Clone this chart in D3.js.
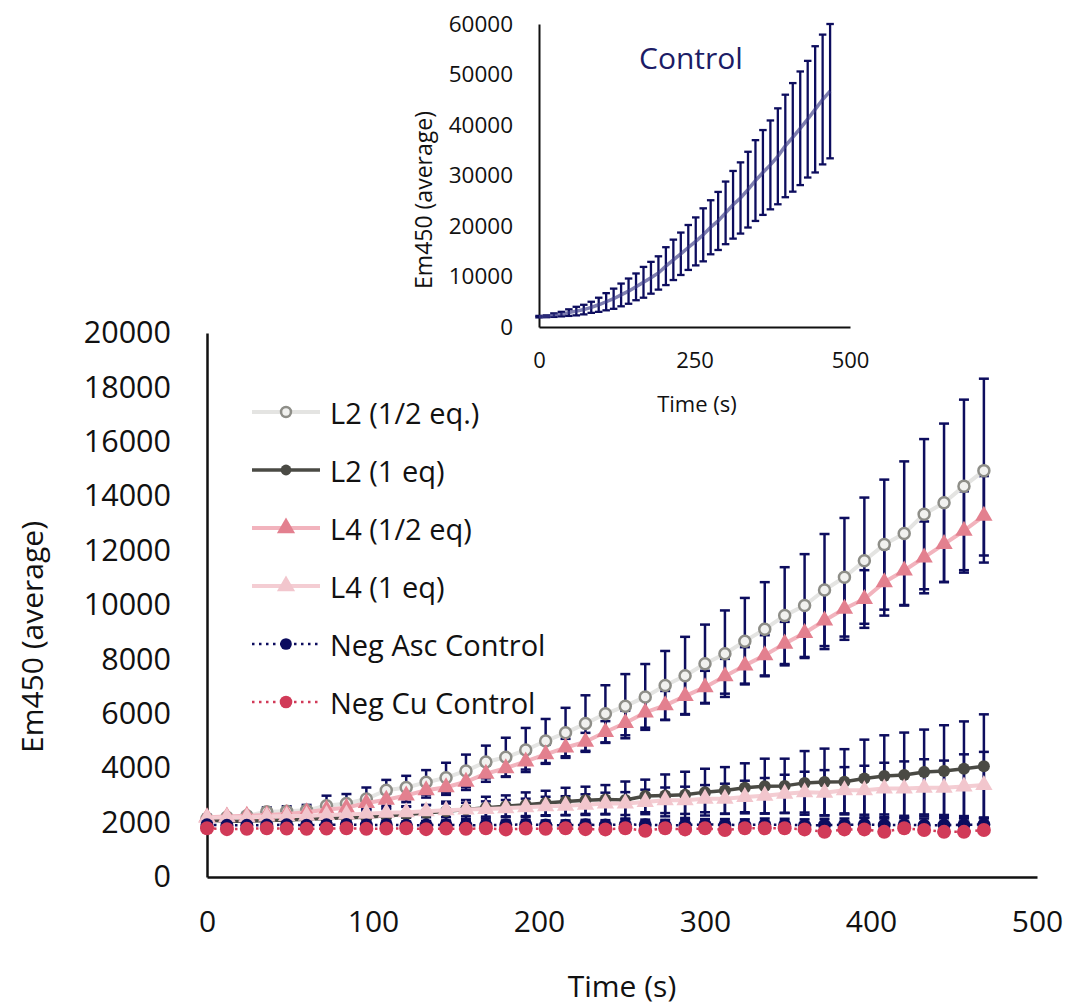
<!DOCTYPE html>
<html>
<head>
<meta charset="utf-8">
<script src="https://cdn.jsdelivr.net/npm/d3@7"></script>
<style>
  body { margin: 0; background: #fff; }
  svg { display: block; }
  text { font-family: "Open Sans", sans-serif; fill: #111; }
</style>
</head>
<body>
<svg id="chart" width="1073" height="1004"></svg>
<script>
// Sampling times (s)
const timeS = [0, 12, 24, 36, 48, 60, 72, 84, 96, 108, 120, 132, 144, 156, 168, 180, 192, 204, 216, 228,
               240, 252, 264, 276, 288, 300, 312, 324, 336, 348, 360, 372, 384, 396, 408, 420, 432, 444, 456, 468];

// Em450 averages and standard deviations, main panel
const l2Half   = [2150, 2200, 2250, 2400, 2420, 2450, 2620, 2700, 2870, 3190, 3290, 3480, 3650, 3900, 4230, 4400, 4670, 5000, 5300, 5640,
                  6000, 6280, 6620, 7040, 7400, 7840, 8210, 8670, 9110, 9610, 9980, 10550, 11020, 11630, 12220, 12630, 13340, 13760, 14370, 14940];
const l2HalfSd = [80, 100, 120, 160, 180, 200, 370, 350, 420, 380, 430, 450, 550, 600, 600, 720, 810, 810, 920, 1040,
                  1050, 1180, 1210, 1270, 1430, 1440, 1590, 1590, 1730, 1780, 1890, 2060, 2180, 2320, 2390, 2650, 2760, 2910, 3180, 3380];

const l2One    = [2100, 2050, 2050, 2080, 2100, 2120, 2150, 2180, 2200, 2250, 2300, 2350, 2420, 2480, 2550, 2600, 2660, 2720, 2780, 2820,
                  2850, 2830, 2980, 3000, 3020, 3120, 3180, 3280, 3340, 3350, 3460, 3490, 3500, 3620, 3710, 3750, 3860, 3900, 3980, 4070];
const l2OneSd  = [100, 100, 100, 150, 150, 150, 200, 200, 250, 250, 300, 300, 350, 350, 400, 400, 450, 450, 500, 500,
                  530, 680, 600, 770, 850, 860, 860, 900, 1010, 1000, 1170, 1230, 1200, 1430, 1500, 1560, 1560, 1680, 1740, 1910];

const l4Half   = [2200, 2220, 2250, 2280, 2320, 2380, 2480, 2550, 2720, 2840, 3000, 3190, 3300, 3500, 3800, 4000, 4250, 4510, 4760, 4970,
                  5330, 5660, 6050, 6310, 6650, 6980, 7380, 7780, 8150, 8580, 8970, 9430, 9860, 10220, 10840, 11270, 11750, 12240, 12730, 13280];
const l4HalfSd = [80, 80, 100, 100, 120, 120, 150, 150, 200, 220, 250, 270, 280, 300, 300, 300, 300, 350, 320, 330,
                  400, 450, 560, 530, 660, 600, 640, 670, 740, 800, 920, 1050, 1140, 1060, 1230, 1270, 1320, 1400, 1450, 1460];

const l4One    = [2180, 2200, 2200, 2220, 2240, 2250, 2280, 2300, 2330, 2360, 2380, 2420, 2450, 2480, 2500, 2530, 2560, 2600, 2620, 2660,
                  2700, 2700, 2760, 2820, 2820, 2880, 2880, 2940, 2990, 3060, 3120, 3100, 3190, 3190, 3250, 3250, 3280, 3280, 3330, 3380];
const l4OneSd  = [80, 80, 100, 100, 120, 120, 150, 150, 180, 200, 200, 220, 250, 250, 280, 300, 320, 350, 350, 380,
                  400, 420, 450, 470, 500, 500, 550, 600, 650, 700, 750, 830, 850, 900, 950, 1000, 1050, 1000, 1180, 1220];

const negAsc   = [1920, 1900, 1900, 1910, 1920, 1900, 1920, 1930, 1910, 1920, 1900, 1910, 1920, 1900, 1910, 1920, 1930, 1910, 1900, 1920,
                  1910, 1930, 1920, 1900, 1910, 1930, 1920, 1910, 1930, 1920, 1900, 1910, 1920, 1930, 1910, 1920, 1900, 1910, 1920, 1930];
const negAscSd = [100, 100, 110, 110, 120, 120, 120, 130, 130, 140, 140, 150, 150, 150, 160, 160, 170, 170, 180, 180,
                  180, 190, 190, 200, 200, 200, 210, 210, 220, 220, 220, 230, 230, 240, 240, 240, 250, 250, 260, 260];

const negCu    = [1790, 1760, 1770, 1790, 1780, 1770, 1780, 1790, 1770, 1780, 1790, 1760, 1780, 1770, 1790, 1750, 1780, 1770, 1790, 1760,
                  1750, 1790, 1700, 1790, 1750, 1790, 1730, 1790, 1790, 1790, 1750, 1660, 1750, 1750, 1660, 1790, 1730, 1660, 1660, 1730];
const negCuSd  = [50, 50, 50, 50, 50, 50, 50, 50, 50, 50, 50, 50, 50, 50, 50, 50, 50, 50, 50, 50,
                  60, 60, 60, 60, 60, 60, 60, 60, 60, 60, 60, 60, 60, 60, 60, 60, 60, 60, 60, 60];

// Inset: control without ligand
const control   = [2050, 2120, 2350, 2550, 2850, 3150, 3450, 3900, 4400, 5000, 5600, 6350, 7100, 7950, 8850, 9750, 10700, 12050, 13300, 14500,
                   15750, 16950, 18250, 19750, 21000, 22600, 24200, 25550, 27200, 29000, 30600, 32100, 33800, 35850, 37550, 39350, 41150, 43100, 45050, 46700];
const controlSd = [150, 180, 350, 450, 650, 850, 950, 1100, 1400, 1700, 2000, 2250, 2500, 2650, 3050, 3150, 3300, 3750, 4000, 4200,
                   4450, 4750, 5250, 5350, 5750, 6200, 6700, 7050, 7500, 8000, 8400, 8800, 9500, 10150, 10750, 11250, 11550, 12500, 12850, 13300];

// Axis ticks
const mainXTicks  = [0, 100, 200, 300, 400, 500];
const mainYTicks  = [0, 2000, 4000, 6000, 8000, 10000, 12000, 14000, 16000, 18000, 20000];
const insetXTicks = [0, 250, 500];
const insetYTicks = [0, 10000, 20000, 30000, 40000, 50000, 60000];

const seriesNames = ["L2 (1/2 eq.)", "L2 (1 eq)", "L4 (1/2 eq)", "L4 (1 eq)", "Neg Asc Control", "Neg Cu Control"];

const ERR = "#0d0d5e";
const series = [
  { name: seriesNames[0], mean: l2Half, sd: l2HalfSd, line: "#e4e4e2", lw: 4, dash: null,
    marker: "circle", r: 5.5, fill: "#f1f1ef", stroke: "#8e8e88", sw: 2.5 },
  { name: seriesNames[1], mean: l2One, sd: l2OneSd, line: "#4a4a44", lw: 3.5, dash: null,
    marker: "circle", r: 6, fill: "#4a4a44", stroke: "none", sw: 0 },
  { name: seriesNames[2], mean: l4Half, sd: l4HalfSd, line: "#f2b3bd", lw: 4, dash: null,
    marker: "triangle", size: 130, fill: "#e3808f", stroke: "none", sw: 0 },
  { name: seriesNames[3], mean: l4One, sd: l4OneSd, line: "#f4cdd3", lw: 4, dash: null,
    marker: "triangle", size: 130, fill: "#f2c6cd", stroke: "none", sw: 0 },
  { name: seriesNames[4], mean: negAsc, sd: negAscSd, line: "#0c0c5e", lw: 2.5, dash: "2.5,4.5",
    marker: "circle", r: 6.5, fill: "#0c0c5e", stroke: "none", sw: 0 },
  { name: seriesNames[5], mean: negCu, sd: negCuSd, line: "#d13a58", lw: 2.5, dash: "2.5,4.5",
    marker: "circle", r: 7, fill: "#d13a58", stroke: "none", sw: 0 }
];

const svg = d3.select("#chart");

function drawMarker(g, s, cx, cy, scale) {
  const k = scale || 1;
  if (s.marker === "circle") {
    g.append("circle").attr("cx", cx).attr("cy", cy).attr("r", s.r * k)
      .attr("fill", s.fill).attr("stroke", s.stroke).attr("stroke-width", s.sw);
  } else {
    g.append("path").attr("transform", `translate(${cx},${cy})`)
      .attr("d", d3.symbol(d3.symbolTriangle, s.size * k * k)())
      .attr("fill", s.fill);
  }
}

function errorBars(g, xs, ys, mean, sd, capW, width) {
  const grp = g.append("g").attr("stroke", ERR).attr("stroke-width", width).attr("fill", "none");
  timeS.forEach((t, i) => {
    const px = xs(t), top = ys(mean[i] + sd[i]), bot = ys(mean[i] - sd[i]);
    grp.append("line").attr("x1", px).attr("x2", px).attr("y1", top).attr("y2", bot);
    grp.append("line").attr("x1", px - capW / 2).attr("x2", px + capW / 2).attr("y1", top).attr("y2", top);
    grp.append("line").attr("x1", px - capW / 2).attr("x2", px + capW / 2).attr("y1", bot).attr("y2", bot);
  });
}

function styleAxis(g, fontSize) {
  g.select(".domain").attr("stroke", "#111").attr("stroke-width", 2.5);
  g.selectAll(".tick line").remove();
  g.selectAll(".tick text").attr("font-size", fontSize).attr("fill", "#111")
    .style("font-family", '"Open Sans", sans-serif');
}

// ---------- Main panel ----------
const x = d3.scaleLinear().domain([0, 500]).range([207, 1037]);
const y = d3.scaleLinear().domain([0, 20000]).range([877, 333]);

const main = svg.append("g");

const gx = main.append("g").attr("transform", `translate(0,${y(0)})`)
  .call(d3.axisBottom(x).tickValues(mainXTicks).tickFormat(d3.format("d")).tickSize(0).tickSizeOuter(0).tickPadding(34));
styleAxis(gx, 30);
const gy = main.append("g").attr("transform", `translate(${x(0)},0)`)
  .call(d3.axisLeft(y).tickValues(mainYTicks).tickFormat(d3.format("d")).tickSize(0).tickSizeOuter(0).tickPadding(36));
styleAxis(gy, 30.5);

main.append("text").attr("x", 622).attr("y", 985).attr("text-anchor", "middle")
  .attr("dominant-baseline", "central").attr("font-size", 30).text("Time (s)");
main.append("text").attr("transform", "translate(31,637) rotate(-90)").attr("text-anchor", "middle")
  .attr("dominant-baseline", "central").attr("font-size", 30).text("Em450 (average)");

// error bars underneath the series
const errG = main.append("g");
series.forEach(s => errorBars(errG, x, y, s.mean, s.sd, 10, 2.5));

const line = d3.line().x((d, i) => x(timeS[i])).y(d => y(d));
series.forEach(s => {
  const g = main.append("g");
  g.append("path").datum(s.mean).attr("d", line).attr("fill", "none")
    .attr("stroke", s.line).attr("stroke-width", s.lw)
    .attr("stroke-dasharray", s.dash).attr("stroke-linejoin", "round");
  s.mean.forEach((v, i) => drawMarker(g, s, x(timeS[i]), y(v)));
});

// legend
const legend = main.append("g");
series.forEach((s, i) => {
  const cy = 412 + i * 58;
  const row = legend.append("g");
  row.append("line").attr("x1", 252).attr("x2", 320).attr("y1", cy).attr("y2", cy)
    .attr("stroke", s.line).attr("stroke-width", s.lw).attr("stroke-dasharray", s.dash);
  drawMarker(row, s, 286, cy, s.marker === "triangle" ? 1.05 : 0.9);
  row.append("text").attr("x", 330).attr("y", cy).attr("dominant-baseline", "central")
    .attr("font-size", 29).text(s.name);
});

// ---------- Inset: control ----------
const xi = d3.scaleLinear().domain([0, 500]).range([539, 850]);
const yi = d3.scaleLinear().domain([0, 60000]).range([327, 24]);
const inset = svg.append("g");

const gxi = inset.append("g").attr("transform", `translate(0,${yi(0)})`)
  .call(d3.axisBottom(xi).tickValues(insetXTicks).tickFormat(d3.format("d")).tickSize(0).tickSizeOuter(0).tickPadding(25));
styleAxis(gxi, 22);
gxi.select(".domain").attr("stroke-width", 2);
const gyi = inset.append("g").attr("transform", `translate(${xi(0)},0)`)
  .call(d3.axisLeft(yi).tickValues(insetYTicks).tickFormat(d3.format("d")).tickSize(0).tickSizeOuter(0).tickPadding(26));
styleAxis(gyi, 22.5);
gyi.select(".domain").attr("stroke-width", 2);

inset.append("text").attr("x", 697).attr("y", 403).attr("text-anchor", "middle")
  .attr("dominant-baseline", "central").attr("font-size", 22).text("Time (s)");
inset.append("text").attr("transform", "translate(423,200) rotate(-90)").attr("text-anchor", "middle")
  .attr("dominant-baseline", "central").attr("font-size", 23).text("Em450 (average)");
inset.append("text").attr("x", 691).attr("y", 57).attr("text-anchor", "middle")
  .attr("dominant-baseline", "central").attr("font-size", 30).style("fill", "#1c1c66").text("Control");

errorBars(inset, xi, yi, control, controlSd, 7.5, 2.3);
const lineI = d3.line().x((d, i) => xi(timeS[i])).y(d => yi(d));
inset.append("path").datum(control).attr("d", lineI).attr("fill", "none")
  .attr("stroke", "#3a3a85").attr("stroke-opacity", 0.65).attr("stroke-width", 3.5);
</script>
</body>
</html>
